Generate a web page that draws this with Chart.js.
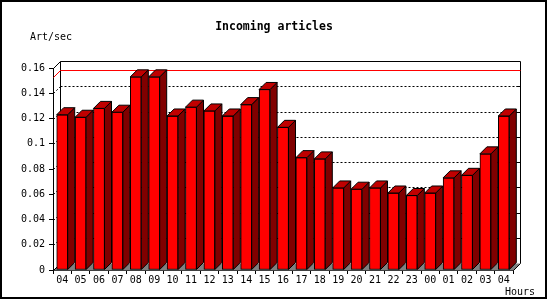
<!DOCTYPE html>
<html>
<head>
<meta charset="utf-8">
<script src="https://cdn.jsdelivr.net/npm/chart.js@4.4.1/dist/chart.umd.min.js"></script>
<style>
  html, body { margin: 0; padding: 0; background: #fff; }
  #wrap { width: 550px; height: 300px; position: relative; }
</style>
</head>
<body>
<div id="wrap"><canvas id="c" width="550" height="300"></canvas></div>
<script>
// ---- data ----
const hours = ['04','05','06','07','08','09','10','11','12','13','14','15','16','17','18','19','20','21','22','23','00','01','02','03','04'];
const artPerSec = [0.123,0.121,0.128,0.125,0.153,0.153,0.122,0.129,0.126,0.122,0.131,0.143,0.113,0.089,0.088,0.065,0.064,0.065,0.061,0.059,0.061,0.073,0.075,0.092,0.122];
const yTickValues = [0,0.02,0.04,0.06,0.08,0.1,0.12,0.14,0.16];
const yTickLabels = ['0','0.02','0.04','0.06','0.08','0.1','0.12','0.14','0.16'];
const chartTitle = 'Incoming articles';
const yUnitLabel = 'Art/sec';
const xUnitLabel = 'Hours';

// ---- style ----
const DEPTH = 7;
const MONO = "'DejaVu Sans Mono', 'Liberation Mono', monospace";
const FRONT = '#ff0000', TOP = '#c00000', SIDE = '#800000', FLOOR = '#808080';

function px(v) { return Math.round(v) + 0.5; }
function seg(ctx, x1, y1, x2, y2) { ctx.beginPath(); ctx.moveTo(x1, y1); ctx.lineTo(x2, y2); ctx.stroke(); }

const threeD = {
  id: 'threeD',
  beforeDraw(chart) {
    const ctx = chart.ctx;
    ctx.save();
    ctx.fillStyle = '#fff';
    ctx.fillRect(0, 0, chart.width, chart.height);
    ctx.restore();
  },
  beforeDatasetsDraw(chart) {
    const { ctx, chartArea: a, scales: { y } } = chart;
    const d = DEPTH;
    const L = px(a.left), R = px(a.right), T = px(a.top), B = px(a.bottom);
    ctx.save();
    ctx.lineWidth = 1;
    // floor
    ctx.fillStyle = FLOOR;
    ctx.beginPath();
    ctx.moveTo(L, B); ctx.lineTo(R, B); ctx.lineTo(R + d, B - d); ctx.lineTo(L + d, B - d);
    ctx.closePath(); ctx.fill();
    ctx.strokeStyle = '#000';
    // back wall
    seg(ctx, L + d, B - d, L + d, T - d);
    seg(ctx, L + d, T - d, R + d, T - d);
    seg(ctx, R + d, T - d, R + d, B - d);
    seg(ctx, L, T, L + d, T - d);
    seg(ctx, R, B, R + d, B - d);
    seg(ctx, L, B, L + d, B - d);
    // gridlines (dashed) on back wall + left wall
    yTickValues.forEach(v => {
      if (v === yTickValues[0] || v === yTickValues[yTickValues.length - 1]) return;
      const yy = px(y.getPixelForValue(v));
      ctx.setLineDash([2, 2]);
      seg(ctx, L + d, yy - d, R + d, yy - d);
      seg(ctx, L, yy, L + d, yy - d);
      ctx.setLineDash([]);
      seg(ctx, R + d - 4, yy - d, R + d, yy - d);
    });
    // max line (red)
    const maxV = Math.max(...artPerSec);
    const my = px(y.getPixelForValue(maxV));
    ctx.strokeStyle = '#ff0000';
    seg(ctx, L, my, L + d, my - d);
    seg(ctx, L + d, my - d, R + d, my - d);
    ctx.restore();
  },
  afterDatasetsDraw(chart) {
    const { ctx } = chart;
    const d = DEPTH;
    const meta = chart.getDatasetMeta(0);
    ctx.save();
    ctx.lineWidth = 1;
    ctx.strokeStyle = '#000';
    meta.data.forEach(bar => {
      const p = bar.getProps(['x', 'y', 'base', 'width'], true);
      const xl = p.x - p.width / 2, xr = p.x + p.width / 2;
      const top = p.y, base = p.base;
      // side
      ctx.fillStyle = SIDE;
      ctx.beginPath();
      ctx.moveTo(xr, top); ctx.lineTo(xr + d, top - d); ctx.lineTo(xr + d, base - d); ctx.lineTo(xr, base);
      ctx.closePath(); ctx.fill(); ctx.stroke();
      // top
      ctx.fillStyle = TOP;
      ctx.beginPath();
      ctx.moveTo(xl, top); ctx.lineTo(xl + d, top - d); ctx.lineTo(xr + d, top - d); ctx.lineTo(xr, top);
      ctx.closePath(); ctx.fill(); ctx.stroke();
    });
    ctx.restore();
  },
  afterDraw(chart) {
    const ctx = chart.ctx;
    ctx.save();
    ctx.fillStyle = '#000';
    ctx.textBaseline = 'middle';
    ctx.font = 'bold 11.5px ' + MONO;
    ctx.textAlign = 'center';
    ctx.fillText(chartTitle, 274, 27);
    ctx.font = '10px ' + MONO;
    ctx.textAlign = 'left';
    ctx.fillText(yUnitLabel, 30, 37);
    ctx.fillText(xUnitLabel, 505, 292);
    // frame
    ctx.strokeStyle = '#000';
    ctx.lineWidth = 2;
    ctx.strokeRect(1, 1, 545, 297);
    ctx.restore();
  }
};

Chart.defaults.font.family = MONO;
Chart.defaults.font.size = 10;
Chart.defaults.color = '#000';

new Chart(document.getElementById('c'), {
  type: 'bar',
  data: {
    labels: hours,
    datasets: [{
      label: yUnitLabel,
      data: artPerSec,
      backgroundColor: FRONT,
      borderColor: '#000',
      borderWidth: 1,
      borderSkipped: false,
      barThickness: 11
    }]
  },
  options: {
    responsive: false,
    animation: false,
    devicePixelRatio: 1,
    layout: { padding: { left: 0, top: 68, right: 37, bottom: 0 } },
    plugins: { legend: { display: false }, tooltip: { enabled: false }, title: { display: false } },
    scales: {
      x: {
        offset: true,
        grid: { display: true, drawOnChartArea: false, drawTicks: true, tickLength: 4, color: '#000', offset: true },
        border: { display: true, color: '#000' },
        ticks: { padding: 0, maxRotation: 0, autoSkip: false, font: { size: 10, family: MONO } },
        afterFit: s => { s.height = 30; }
      },
      y: {
        min: 0, max: 0.16,
        afterBuildTicks: s => { s.ticks = yTickValues.map(v => ({ value: v })); },
        grid: { display: true, drawOnChartArea: false, drawTicks: true, tickLength: 4, color: '#000' },
        border: { display: true, color: '#000' },
        ticks: { padding: 4, callback: (v, i) => yTickLabels[i], font: { size: 10, family: MONO } },
        afterFit: s => { s.width = 53; }
      }
    }
  },
  plugins: [threeD]
});
</script>
</body>
</html>
